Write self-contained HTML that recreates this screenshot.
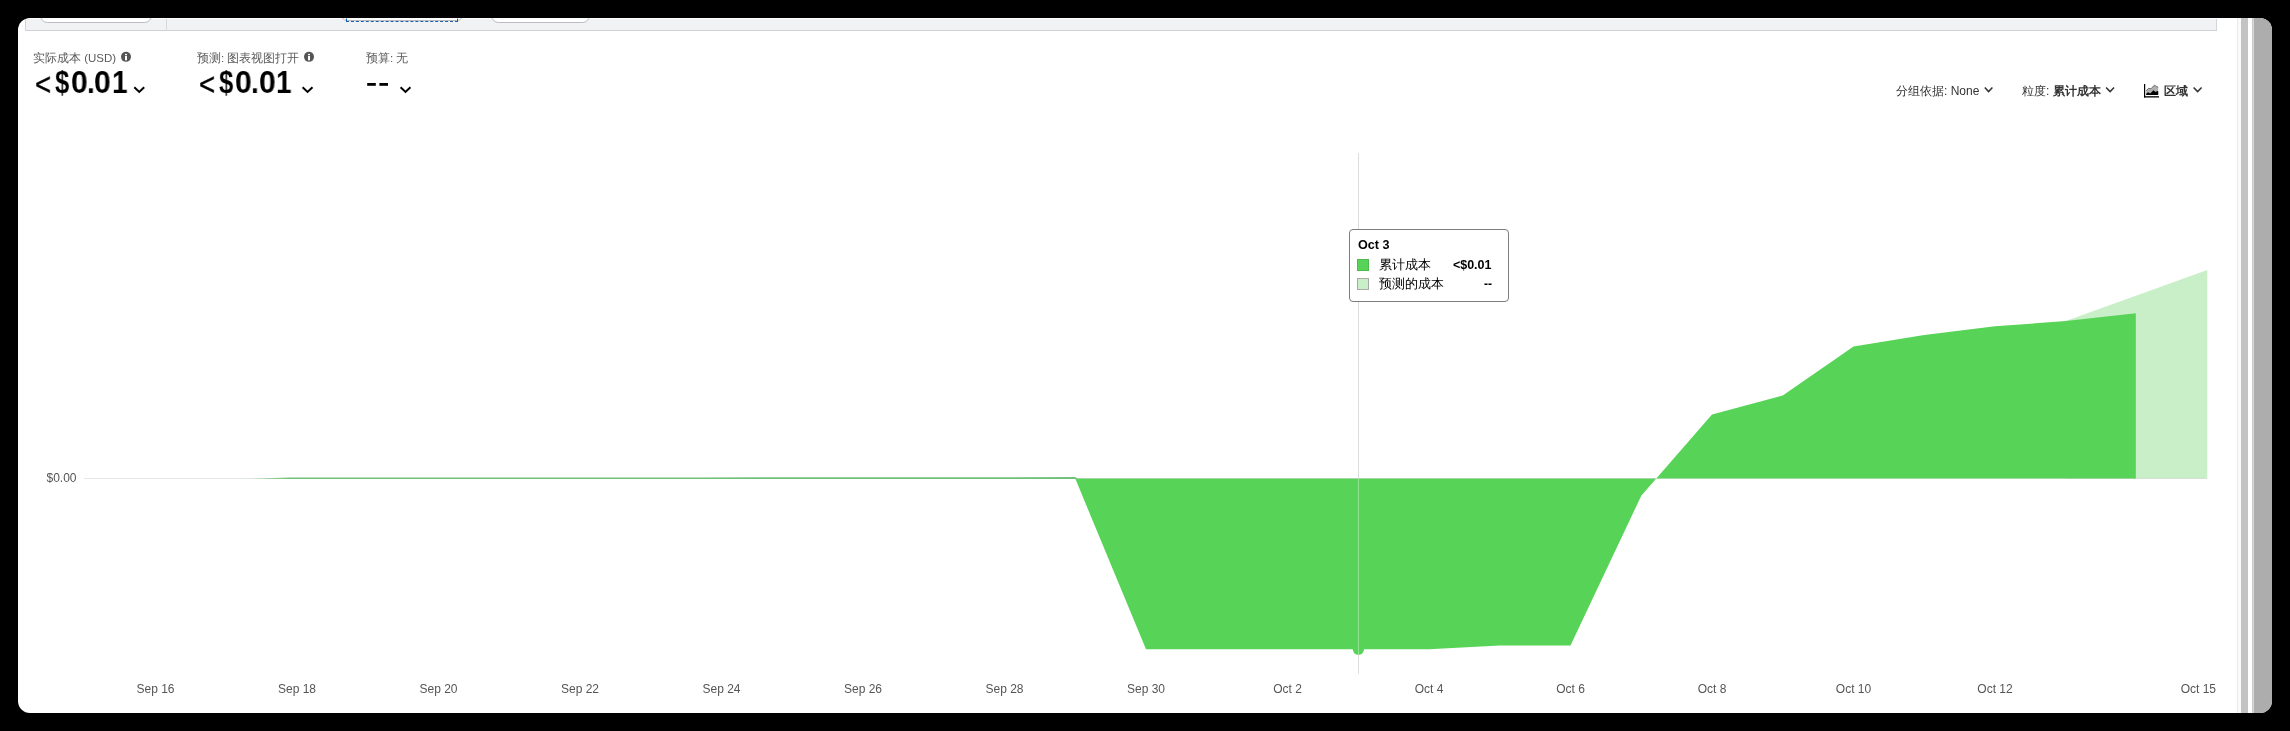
<!DOCTYPE html>
<html>
<head>
<meta charset="utf-8">
<style>
*{margin:0;padding:0;box-sizing:border-box;}
html,body{width:2290px;height:731px;overflow:hidden;background:#000;}
body{font-family:"Liberation Sans",sans-serif;position:relative;}
.card,.lbl,.g,.ctl,.tip,svg.ch{will-change:transform;}
.card{position:absolute;left:18px;top:18px;width:2254px;height:695px;background:#fff;border-radius:12px;overflow:hidden;}
.strip{position:absolute;left:7px;top:1px;width:2192px;height:12px;background:#f1f2f4;border-left:1px solid #d3d5d8;border-right:1px solid #d3d5d8;border-bottom:1px solid #cfd1d4;}
.btn{position:absolute;top:-11px;height:15px;background:#fff;border:1px solid #b9bbbe;border-radius:8px;}
.div1{position:absolute;left:140px;top:0;width:1px;height:12px;background:#d8d9dc;}
.focus{position:absolute;left:320px;top:-7px;width:112px;height:10px;border:1px dashed #1a5fb4;border-top:none;}
.sb1{position:absolute;left:2219px;top:0;width:1px;height:695px;background:#eaeaea;}
.sb1b{position:absolute;left:2220px;top:0;width:3px;height:695px;background:#fafafa;}
.sb2{position:absolute;left:2223px;top:0;width:7px;height:695px;background:#c3c3c3;}
.sb3{position:absolute;left:2234px;top:0;width:1px;height:695px;background:#c9c9c9;}
.sb3b{position:absolute;left:2235px;top:0;width:1px;height:695px;background:#d9d9d9;}
.sb4{position:absolute;left:2236px;top:0;width:18px;height:695px;background:#adadad;}
.lbl{position:absolute;font-size:11.5px;color:#5a5a5a;white-space:nowrap;}
.g{position:absolute;font-size:31px;line-height:40px;color:#000;transform-origin:0 0;}
.info{display:inline-block;width:10px;height:10px;border-radius:50%;background:#6b6b6b;color:#fff;font-size:8px;font-weight:bold;text-align:center;line-height:10px;vertical-align:1px;margin-left:6px;}
.ctl{position:absolute;font-size:12px;color:#333;white-space:nowrap;}
svg.ch{position:absolute;left:0;top:0;}
.tip{position:absolute;left:1349px;top:229px;width:160px;height:73px;background:#fff;border:1px solid #7d7d7d;border-radius:4px;}
</style>
</head>
<body>
<div class="card">
  <div class="strip">
    <div class="btn" style="left:14px;width:112px;"></div>
    <div class="div1"></div>
    <div class="btn" style="left:314px;width:124px;top:-13px;"></div>
    <div class="focus"></div>
    <div class="btn" style="left:465px;width:99px;border-radius:10px;"></div>
  </div>
  <div class="sb1"></div><div class="sb1b"></div><div class="sb2"></div><div class="sb3"></div><div class="sb3b"></div><div class="sb4"></div>
</div>

<div class="lbl" style="left:33px;top:51px;">实际成本 (USD)</div>
<div class="g" style="left:34.8px;top:65px;font-weight:normal;transform:scaleX(0.89);-webkit-text-stroke:0.45px #000;">&lt;</div><div class="g" style="left:54.9px;top:63px;font-weight:bold;transform:scaleX(0.83);">$</div><div class="g" style="left:70.7px;top:63px;font-weight:bold;transform:scaleX(0.97);">0</div><div class="g" style="left:86.6px;top:63px;font-weight:bold;transform:scaleX(0.9);">.</div><div class="g" style="left:94.3px;top:63px;font-weight:bold;transform:scaleX(0.97);">0</div><div class="g" style="left:111.5px;top:63px;font-weight:bold;transform:scaleX(0.9);">1</div>
<div class="lbl" style="left:197px;top:51px;">预测: 图表视图打开</div>
<div class="g" style="left:199.0px;top:65px;font-weight:normal;transform:scaleX(0.89);-webkit-text-stroke:0.45px #000;">&lt;</div><div class="g" style="left:219.1px;top:63px;font-weight:bold;transform:scaleX(0.83);">$</div><div class="g" style="left:234.9px;top:63px;font-weight:bold;transform:scaleX(0.97);">0</div><div class="g" style="left:250.8px;top:63px;font-weight:bold;transform:scaleX(0.9);">.</div><div class="g" style="left:258.5px;top:63px;font-weight:bold;transform:scaleX(0.97);">0</div><div class="g" style="left:275.7px;top:63px;font-weight:bold;transform:scaleX(0.9);">1</div>
<div class="lbl" style="left:366px;top:51px;">预算: 无</div>

<div class="ctl" style="left:1896px;top:83px;">分组依据: None</div>
<div class="ctl" style="left:2022px;top:83px;">粒度: <b>累计成本</b></div>
<div class="ctl" style="left:2164px;top:83px;"><b>区域</b></div>

<svg class="ch" width="2290" height="731" viewBox="0 0 2290 731">
  <!-- chevrons -->
  <g fill="none" stroke="#000" stroke-width="2">
    <polyline points="134.3,87.2 139.25,91.9 144.2,87.2"/>
    <polyline points="302.6,87.2 307.55,91.9 312.5,87.2"/>
    <polyline points="400.6,87.2 405.5,91.9 410.4,87.2"/>
  </g>
  <rect x="367.2" y="83" width="8.6" height="2.8" fill="#000"/>
  <rect x="379.4" y="83" width="8.6" height="2.8" fill="#000"/>
  <g>
    <circle cx="126" cy="56.85" r="5" fill="#555"/>
    <rect x="125" y="53.9" width="2" height="1.3" fill="#fff"/>
    <rect x="125" y="56" width="2" height="4.3" fill="#fff"/>
    <circle cx="309" cy="56.85" r="5" fill="#555"/>
    <rect x="308" y="53.9" width="2" height="1.3" fill="#fff"/>
    <rect x="308" y="56" width="2" height="4.3" fill="#fff"/>
  </g>
  <g fill="none" stroke="#333" stroke-width="1.5">
    <polyline points="1984.8,87.4 1988.6,91.6 1992.4,87.4"/>
    <polyline points="2106.1,87.4 2110.1,91.6 2114.1,87.4"/>
    <polyline points="2193.6,87.4 2197.6,91.6 2201.6,87.4"/>
  </g>
  <!-- area icon -->
  <g>
    <rect x="2144" y="84" width="1.2" height="13.5" fill="#000"/>
    <rect x="2144" y="96.2" width="15" height="1.3" fill="#000"/>
    <polygon points="2146.2,95 2146.2,90.8 2148.5,88.3 2151,88.8 2154.3,85.2 2156.2,86.3 2158.2,87.3 2158.2,95" fill="#b0b0b0"/>
    <polyline points="2146.2,90.8 2148.5,88.3 2151,88.8 2154.3,85.2 2156.2,86.3 2158.2,87.3" fill="none" stroke="#555" stroke-width="0.8"/>
    <polygon points="2146.2,95 2146.2,93.8 2148,92.2 2150.2,93.6 2153.4,90.3 2155.5,92 2157.5,91 2158.2,91.3 2158.2,95" fill="#000"/>
  </g>
  <!-- y label -->
  <text x="76.5" y="481.7" font-size="12" fill="#555" text-anchor="end" font-family="Liberation Sans">$0.00</text>
  <line x1="1358.5" y1="153" x2="1358.5" y2="673.5" stroke="#c9c9c9" stroke-width="1"/>
  <!-- forecast area -->
  <polygon points="2065.75,321 2136.5,295.5 2207.25,270 2207.25,478.6 2065.75,478.6" fill="#c9efc9"/>
  <!-- actual cumulative area -->
  <polygon fill="#57d457" points="1075.25,478.6 1146,649.3 1216.75,649.3 1287.5,649.3 1358.25,649.3 1429,649.3 1499.75,645.4 1570.5,645.4 1641.25,495.8 1712,414.5 1782.75,395.5 1853.5,346.5 1924.25,334.9 1995,326.3 2065.75,321 2135.8,313.3 2135.8,478.6"/>
  <!-- zero line -->
  <line x1="84" y1="478.5" x2="2207" y2="478.5" stroke="rgba(150,150,150,0.22)" stroke-width="1"/>
  <defs><linearGradient id="fade" x1="236" x2="290" y1="0" y2="0" gradientUnits="userSpaceOnUse"><stop offset="0" stop-color="#6fc078" stop-opacity="0"/><stop offset="1" stop-color="#6fc078" stop-opacity="1"/></linearGradient></defs>
  <polygon points="236,479 290,477.6 700,477.4 1075.25,477.1 1077,478.6 1077,479" fill="url(#fade)"/>
  <!-- crosshair -->
  <circle cx="1358.4" cy="649.2" r="5.6" fill="#57d457"/>
  <line x1="1358.5" y1="153" x2="1358.5" y2="673.5" stroke="rgba(255,255,255,0.35)" stroke-width="1"/>
  <!-- x labels -->
  <g font-size="12" fill="#555" text-anchor="middle" font-family="Liberation Sans">
    <text x="155.5" y="693">Sep 16</text>
    <text x="297" y="693">Sep 18</text>
    <text x="438.5" y="693">Sep 20</text>
    <text x="580" y="693">Sep 22</text>
    <text x="721.5" y="693">Sep 24</text>
    <text x="863" y="693">Sep 26</text>
    <text x="1004.5" y="693">Sep 28</text>
    <text x="1146" y="693">Sep 30</text>
    <text x="1287.5" y="693">Oct 2</text>
    <text x="1429" y="693">Oct 4</text>
    <text x="1570.5" y="693">Oct 6</text>
    <text x="1712" y="693">Oct 8</text>
    <text x="1853.5" y="693">Oct 10</text>
    <text x="1995" y="693">Oct 12</text>
    <text x="2216" y="693" text-anchor="end">Oct 15</text>
  </g>
</svg>

<div class="tip">
  <div style="position:absolute;left:8px;top:8px;font-size:12.6px;font-weight:bold;color:#000;">Oct 3</div>
  <div style="position:absolute;left:7px;top:29px;width:12px;height:12px;background:#57d457;border:1px solid #4cb94c;"></div>
  <div style="position:absolute;left:29px;top:27px;font-size:12.5px;color:#000;">累计成本</div>
  <div style="position:absolute;right:16.5px;top:28px;font-size:12.5px;font-weight:bold;color:#000;">&lt;$0.01</div>
  <div style="position:absolute;left:7px;top:48px;width:12px;height:12px;background:#c9efc9;border:1px solid #a9a9a9;"></div>
  <div style="position:absolute;left:29px;top:46px;font-size:12.5px;color:#000;">预测的成本</div>
  <div style="position:absolute;right:16px;top:47px;font-size:12px;font-weight:bold;color:#000;">--</div>
</div>
</body>
</html>
